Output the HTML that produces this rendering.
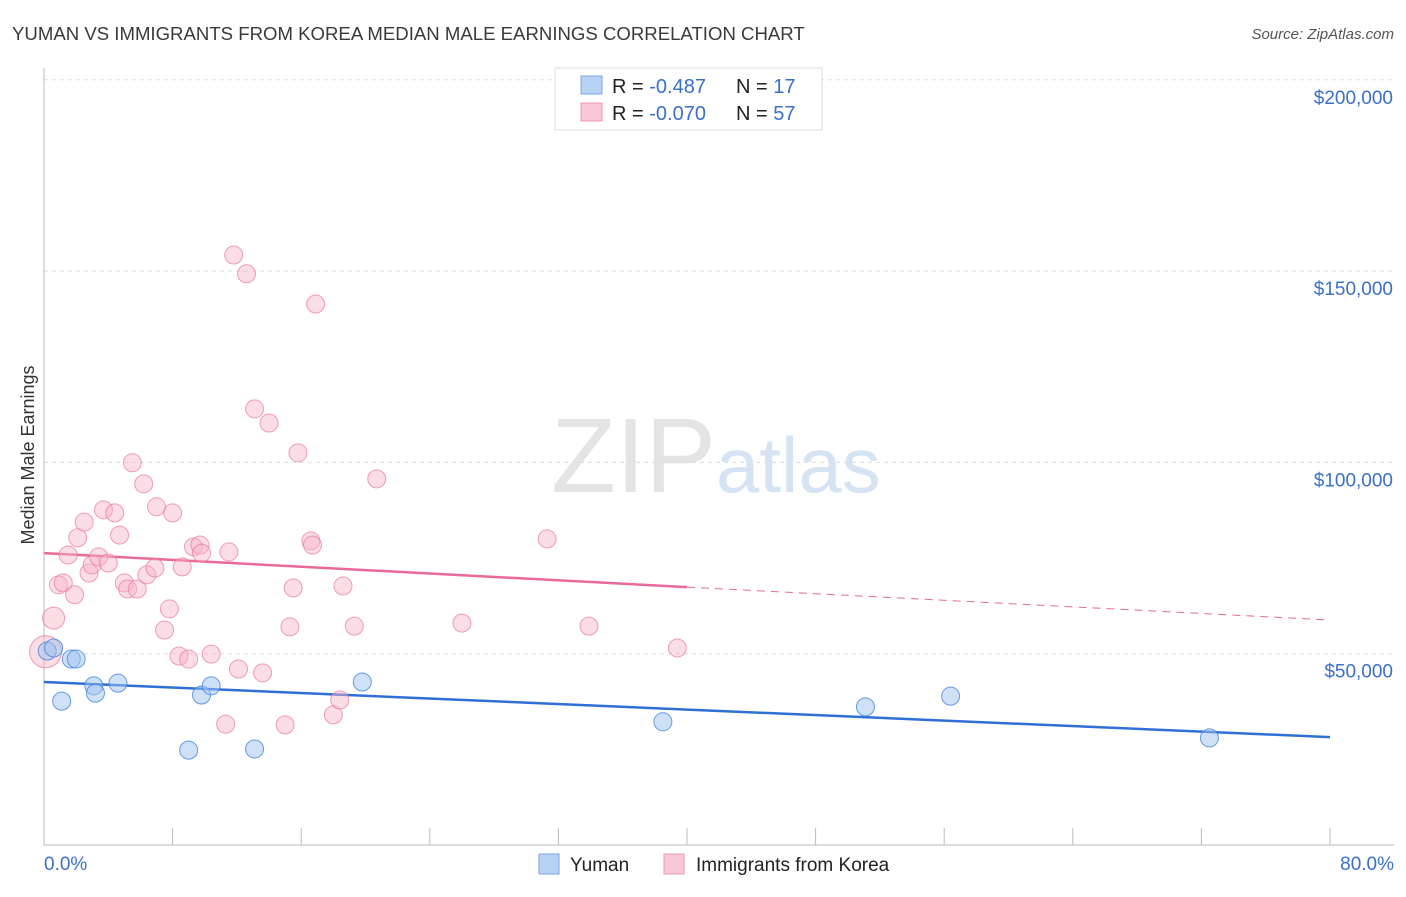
<!DOCTYPE html>
<html><head><meta charset="utf-8"><style>
body{margin:0;background:#fff;font-family:"Liberation Sans",sans-serif;}
svg text{font-family:"Liberation Sans",sans-serif;}
</style></head><body>
<svg id="chart" width="1406" height="892" xmlns="http://www.w3.org/2000/svg">
<text x="12" y="40" font-size="18.6" fill="#3a3a3a">YUMAN VS IMMIGRANTS FROM KOREA MEDIAN MALE EARNINGS CORRELATION CHART</text>
<text x="1394" y="39" font-size="15" fill="#555" font-style="italic" text-anchor="end">Source: ZipAtlas.com</text>
<text x="716" y="492" font-size="106" fill="#e4e4e4" text-anchor="end" font-family="Liberation Serif">ZIP</text>
<text x="716" y="492" font-size="78" fill="#d6e3f3">atlas</text>
<g id="grid"></g><g id="axes"></g><g id="lines"></g><g id="pts"></g>
<text x="34" y="455" font-size="18" fill="#333" text-anchor="middle" transform="rotate(-90 34 455)">Median Male Earnings</text>
<g>
<rect x="555" y="68" width="267" height="62" fill="#fff" stroke="#ddd"/>
<rect x="581" y="76" width="21" height="18" fill="#b8d2f4" stroke="#7aa7e6"/>
<rect x="581" y="103" width="21" height="18" fill="#f9c8d6" stroke="#ee9ab4"/>
<text x="612" y="93" font-size="20" fill="#222">R = <tspan fill="#3a70c8">-0.487</tspan></text>
<text x="736" y="93" font-size="20" fill="#222">N = <tspan fill="#3a70c8"> 17</tspan></text>
<text x="612" y="120" font-size="20" fill="#222">R = <tspan fill="#3a70c8">-0.070</tspan></text>
<text x="736" y="120" font-size="20" fill="#222">N = <tspan fill="#3a70c8">57</tspan></text>
</g>
<g>
<rect x="539" y="854" width="20" height="20" fill="#b8d2f4" stroke="#7aa7e6"/>
<text x="570" y="871" font-size="19" fill="#222">Yuman</text>
<rect x="664" y="854" width="20" height="20" fill="#f9c8d6" stroke="#ee9ab4"/>
<text x="696" y="871" font-size="19" fill="#222">Immigrants from Korea</text>
</g>
</svg>
<script>
const yTicks=[50000,100000,150000,200000];
const yTickLabels=["$50,000","$100,000","$150,000","$200,000"];
const xTickLabels=["0.0%","80.0%"];
const blueX=[0.2,0.6,1.1,1.7,2.0,3.1,3.2,4.6,9.0,9.8,10.4,13.1,19.8,38.5,51.1,56.4,72.5];
const blueY=[50700,51500,37600,48600,48600,41600,39700,42300,24800,39200,41600,25100,42600,32200,36100,38900,28000];
const pinkX=[0.1,0.6,0.9,1.2,1.5,1.9,2.1,2.5,2.8,3.0,3.4,3.7,4.0,4.4,4.7,5.0,5.2,5.5,5.8,6.2,6.4,6.9,7.0,7.5,7.8,8.0,8.4,8.6,9.0,9.3,9.7,9.8,10.4,11.3,11.5,12.1,11.8,12.6,13.1,13.6,14.0,15.0,15.3,15.5,15.8,16.6,16.7,16.9,18.0,18.4,18.6,19.3,20.7,26.0,31.3,33.9,39.4];
const pinkY=[50500,59300,68000,68500,75800,65400,80300,84400,71100,73200,75300,87600,73700,86800,81000,68500,66900,99900,66900,94400,70600,72400,88400,56200,61700,86800,49400,72700,48600,77900,78400,76300,49900,31600,76600,46000,154200,149300,114000,45000,110300,31400,57000,67200,102500,79500,78400,141400,34000,37900,67700,57200,95700,58000,80000,57200,51500];
const blueTrend=[42600,28200];
const pinkTrend=[76300,67400,58800];
const X=v=>44+v/80*1286, Y=v=>845-v/50000*191.3;
const NS="http://www.w3.org/2000/svg";
function mk(t,a,p){const e=document.createElementNS(NS,t);for(const k in a)e.setAttribute(k,a[k]);p.appendChild(e);return e;}
const grid=document.getElementById('grid'),axes=document.getElementById('axes'),lines=document.getElementById('lines'),pts=document.getElementById('pts');
yTicks.forEach((v,i)=>{
 const l=mk('line',{x1:44,x2:1394,y1:Y(v),y2:Y(v),stroke:'#ddd','stroke-dasharray':'4 4'},grid);
 
 
 const t=mk('text',{x:1393,y:Y(v)+24,'font-size':19,fill:'#3a70c8','text-anchor':'end'},axes);
 t.textContent=yTickLabels[i];
 
 
});
const xa=mk('line',{x1:44,x2:1394,y1:845,y2:845,stroke:'#bbb'},axes);


const ya=mk('line',{x1:44,x2:44,y1:68,y2:845,stroke:'#bbb'},axes);


for(let i=1;i<=10;i++){const tk=mk('line',{x1:X(i*8),x2:X(i*8),y1:828,y2:845,stroke:'#bbb'},axes);
 
 }
[[0,'start',44],[80,'end',1394]].forEach((d,i)=>{const t=mk('text',{x:d[2],y:870,'font-size':19,fill:'#3a70c8','text-anchor':d[1]},axes);t.textContent=xTickLabels[i];
 
 });
const bl=mk('line',{x1:X(0),y1:Y(blueTrend[0]),x2:X(80),y2:Y(blueTrend[1]),stroke:'#2f6fd6','stroke-width':2.5},lines);


const pl=mk('line',{x1:X(0),y1:Y(pinkTrend[0]),x2:X(40),y2:Y(pinkTrend[1]),stroke:'#e8699a','stroke-width':2.5},lines);


const pd=mk('line',{x1:X(40),y1:Y(pinkTrend[1]),x2:X(80),y2:Y(pinkTrend[2]),stroke:'#e8699a','stroke-width':1,'stroke-dasharray':'8 6'},lines);


pinkX.forEach((x,i)=>{const c=mk('circle',{cx:X(x),cy:Y(pinkY[i]),r:i==0?16:(i==1?11:9),fill:'rgba(246,180,200,0.45)',stroke:'rgba(232,120,160,0.7)','stroke-width':1},pts);
 
 });
blueX.forEach((x,i)=>{const c=mk('circle',{cx:X(x),cy:Y(blueY[i]),r:9,fill:'rgba(160,195,240,0.5)',stroke:'rgba(70,130,220,0.8)','stroke-width':1},pts);
 
 });
</script>
</body></html>
